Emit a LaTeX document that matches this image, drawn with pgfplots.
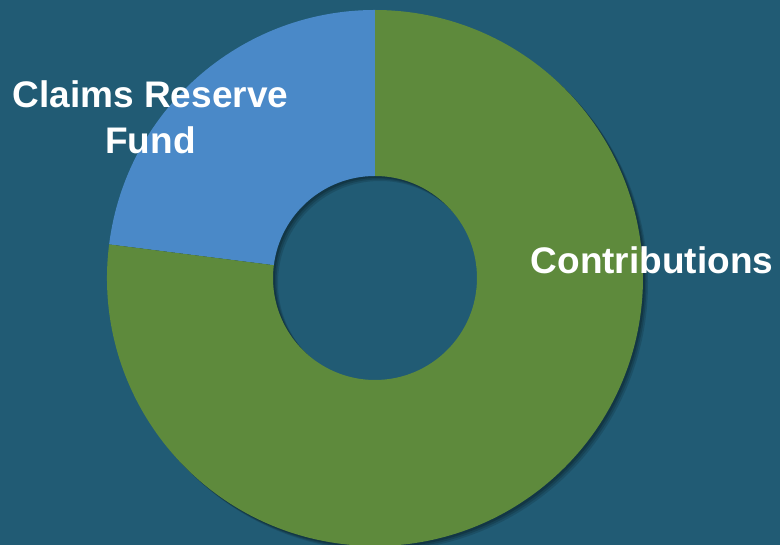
\documentclass[border=0pt]{standalone}
\usepackage{pgfplots}
\pgfplotsset{compat=1.18}
\usepackage{pgfplotstable}
\usepackage{fontspec}
\setmainfont{Liberation Sans}
\definecolor{bg}{HTML}{215B74}
\definecolor{cblue}{HTML}{4A89C8}
\definecolor{cgreen}{HTML}{5E8A3C}
\pgfplotstableread{
label share
Contributions 77
ClaimsReserveFund 23
}\shares
\pgfplotstablegetelem{0}{share}\of\shares \let\shareC\pgfplotsretval
\pgfplotstablegetelem{1}{share}\of\shares \let\shareB\pgfplotsretval
\pgfmathsetmacro{\angB}{90+3.6*\shareB}
\pgfmathsetmacro{\angC}{\angB+3.6*\shareC}
\def\Ro{268}
\def\Ri{102}
\begin{document}
\begin{tikzpicture}
\begin{axis}[
  width=780pt, height=545pt, scale only axis,
  xmin=0, xmax=780, ymin=0, ymax=545,
  hide axis,
]
\begin{scope}
\clip (rel axis cs:0,0) rectangle (rel axis cs:1,1);
\fill[bg] (rel axis cs:0,0) rectangle (rel axis cs:1,1);
% soft shadow
\fill[black, opacity=0.12, even odd rule] (axis cs:380,262) circle[radius=\Ro pt] (axis cs:380,262) circle[radius=\Ri pt];
\fill[black, opacity=0.15, even odd rule] (axis cs:378.5,263.5) circle[radius=\Ro pt] (axis cs:378.5,263.5) circle[radius=\Ri pt];
\fill[black, opacity=0.18, even odd rule] (axis cs:377,265) circle[radius=\Ro pt] (axis cs:377,265) circle[radius=\Ri pt];
% slices
\fill[cblue] (axis cs:375,267) ++(90:\Ro pt) arc[start angle=90, end angle=\angB, radius=\Ro pt]
   -- ++(\angB:-166pt) arc[start angle=\angB, end angle=90, radius=\Ri pt] -- cycle;
\fill[cgreen] (axis cs:375,267) ++(\angB:\Ro pt) arc[start angle=\angB, end angle=\angC, radius=\Ro pt]
   -- ++(\angC:-166pt) arc[start angle=\angC, end angle=\angB, radius=\Ri pt] -- cycle;
\end{scope}
\node[white, anchor=base, font=\bfseries\fontsize{37}{44}\selectfont, inner sep=0pt] at (axis cs:150.5,437) {Claims Reserve};
\node[white, anchor=base, font=\bfseries\fontsize{37}{44}\selectfont, inner sep=0pt] at (axis cs:150.5,391) {Fund};
\node[white, anchor=base, font=\bfseries\fontsize{37}{44}\selectfont, inner sep=0pt] at (axis cs:652,271) {Contributions};
\end{axis}
\end{tikzpicture}
\end{document}
